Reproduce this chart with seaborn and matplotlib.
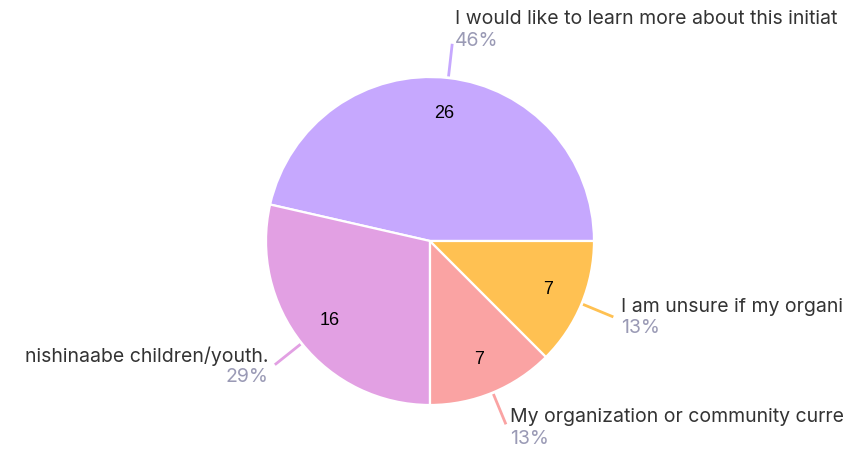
import numpy as np
import matplotlib
matplotlib.use("Agg")
import matplotlib.pyplot as plt
import seaborn as sns


# survey answers (labels are cut off in the original export)
labels = [
    "I would like to learn more about this initiat",
    "nishinaabe children/youth.",
    "My organization or community curre",
    "I am unsure if my organi",
]
counts = [26, 16, 7, 7]
percents = ["46%", "29%", "13%", "13%"]
colors = ["#C6A8FE", "#E2A0E3", "#FAA3A3", "#FFC152"]

# pie geometry in pixels (figure is 863x450)
W, H = 863, 450
CX, CY = 430, 241
R = 164
PT = 0.72  # points per pixel at 100 dpi


def main():
    sns.set_theme(style="white")
    plt.rcParams['font.family'] = ['Inter', 'DejaVu Sans']

    fig = plt.figure(figsize=(W / 100, H / 100), dpi=100)
    ax = fig.add_axes([0, 0, 1, 1])

    wedges, _ = ax.pie(counts, colors=colors, startangle=0, counterclock=True,
                       wedgeprops=dict(edgecolor="white", linewidth=1.6))

    # 1 data unit == radius in pixels
    ax.set_xlim(-CX / R, (W - CX) / R)
    ax.set_ylim(-(H - CY) / R, CY / R)
    ax.set_aspect("auto")
    ax.axis("off")

    for w, n, lab, pct, col in zip(wedges, counts, labels, percents, colors):
        theta = np.deg2rad((w.theta1 + w.theta2) / 2)
        c, s = np.cos(theta), np.sin(theta)

        # count inside the slice
        ax.text(0.78 * c, 0.78 * s, str(n), ha="center", va="center",
                fontsize=13, color="black", family=["Liberation Sans", "DejaVu Sans"])

        # connector
        ax.plot([1.01 * c, 1.21 * c], [1.01 * s, 1.21 * s], color=col, lw=2,
                solid_capstyle="butt")

        ex, ey = 1.21 * c, 1.21 * s
        right = c >= 0
        dx = (2 + 6 * abs(c)) * PT
        dx = dx if right else -dx
        ha = "left" if right else "right"
        pct_dy = (3 if s > 0.5 else -9 + 6 * s) * PT

        ax.annotate(pct, (ex, ey), xytext=(dx, pct_dy), textcoords="offset points",
                    ha=ha, va="center", fontsize=14, color="#9A9AB5")
        ax.annotate(lab, (ex, ey), xytext=(dx, pct_dy + 15.5), textcoords="offset points",
                    ha=ha, va="center", fontsize=14, color="#333333")

    fig.savefig("out.png", dpi=100)


if __name__ == "__main__":
    main()
